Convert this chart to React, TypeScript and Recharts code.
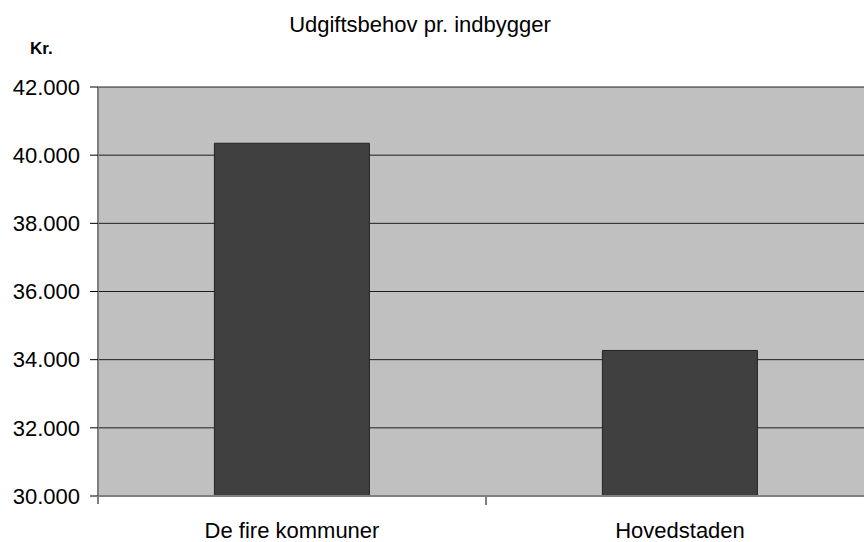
import { Bar, BarChart, CartesianGrid, XAxis, YAxis } from "recharts";

const regions = ["De fire kommuner", "Hovedstaden"];
const spendingPerCapita = [40350, 34270];
const yTicks = [30000, 32000, 34000, 36000, 38000, 40000, 42000];

const data = regions.map((name, i) => ({ name, value: spendingPerCapita[i] }));

const font = "'Liberation Sans', Arial, sans-serif";

// dots as thousands separator, like the danish original
const fmt = (v: number) => String(v).replace(/\B(?=(\d{3})+(?!\d))/g, ".");

function CategoryTick(props: any) {
    const { x, y, payload } = props;
    const half = payload.offset ?? 0;
    return (
        <g>
            <line x1={x + half} x2={x + half} y1={y} y2={y + 9} stroke="#000" />
            <line x1={x - half} x2={x - half} y1={y} y2={y + 8} stroke="#808080" strokeWidth={2} />
            <text x={x} y={y + 42} textAnchor="middle" fontSize={22} fill="#000" fontFamily={font}>
                {payload.value}
            </text>
        </g>
    );
}

export default function App() {
    return (
        <div style={{ position: "absolute", left: 0, top: 0, width: 864, height: 542, overflow: "hidden", background: "#fff" }}>
            <div style={{ position: "absolute", left: 0, width: 840, top: 12, textAlign: "center", fontFamily: font, fontSize: 22 }}>
                Udgiftsbehov pr. indbygger
            </div>
            <div style={{ position: "absolute", left: 30, top: 39, fontFamily: font, fontSize: 17, fontWeight: "bold" }}>
                Kr.
            </div>
            <BarChart width={880} height={542} data={data} margin={{ top: 87, right: 6, bottom: 0, left: 0 }} barCategoryGap="30%">
                <CartesianGrid vertical={false} fill="#c0c0c0" stroke="#000" strokeOpacity={0.85} />
                <XAxis
                    dataKey="name"
                    height={46}
                    tickSize={0}
                    tickMargin={0}
                    tickLine={false}
                    axisLine={{ stroke: "#808080", strokeWidth: 2 }}
                    tick={<CategoryTick />}
                    interval={0}
                />
                <YAxis
                    width={98}
                    domain={[30000, 42000]}
                    ticks={yTicks}
                    tickFormatter={fmt}
                    tickSize={8}
                    tickMargin={10}
                    axisLine={{ stroke: "#808080", strokeWidth: 2 }}
                    tickLine={{ stroke: "#000" }}
                    tick={{ fontSize: 22, fill: "#000", fontFamily: font }}
                    allowDataOverflow
                />
                <Bar dataKey="value" fill="#404040" stroke="#222" strokeWidth={1} isAnimationActive={false} />
            </BarChart>
        </div>
    );
}
